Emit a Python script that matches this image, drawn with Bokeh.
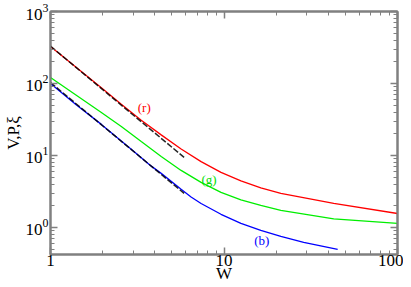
from bokeh.plotting import figure
from bokeh.models import LogAxis, FixedTicker, BasicTickFormatter, Range1d
from bokeh.core.properties import value
from bokeh.embed import file_html
from bokeh.resources import INLINE

# curve (r)
W_r = [1.0, 1.964, 2.559, 3.334, 4.345, 5.66, 7.378, 9.61, 12.52, 16.3, 21.26, 42.9, 100]
V_r = [326, 87.5, 51.5, 30.8, 19.3, 12.3, 8.2, 5.81, 4.43, 3.54, 2.97, 2.15, 1.56]
# curve (g)
W_g = [1.0, 1.964, 2.559, 3.334, 4.345, 5.66, 7.378, 9.61, 12.52, 16.3, 21.26, 42.9, 100]
V_g = [121, 39.5, 25.3, 15.6, 9.68, 6.19, 4.22, 3.06, 2.41, 2.02, 1.72, 1.31, 1.14]
# curve (b)
W_b = [1.0, 1.4, 1.964, 2.92, 3.81, 4.345, 5.66, 6.46, 7.378, 9.61, 12.52, 16.3, 21.26, 28.8, 45.2]
V_b = [100, 51, 27.0, 12.2, 7.1, 5.63, 3.40, 2.65, 2.15, 1.52, 1.14, 0.909, 0.750, 0.619, 0.495]
# dashed power-law fits
W_fit = [1.0, 5.89]
V_fit_r = [330, 9.38]
V_fit_b = [103, 2.97]

# curve tags
tag_text = ["(r)", "(g)", "(b)"]
tag_W = [3.47, 8.2, 16.5]
tag_V = [46.4, 4.64, 0.66]
tag_col = ["#ff0000", "#00dd00", "#0000ff"]

x_major = [1, 10, 100]
x_minor = [2, 3, 4, 5, 6, 7, 8, 9, 20, 30, 40, 50, 60, 70, 80, 90]
y_major = [1, 10, 100, 1000]
y_minor = [0.5, 0.6, 0.7, 0.8, 0.9, 2, 3, 4, 5, 6, 7, 8, 9,
           20, 30, 40, 50, 60, 70, 80, 90, 200, 300, 400, 500, 600, 700, 800, 900]

FONT = "Liberation Serif"
GRAY = "#808080"

p = figure(x_axis_type="log", y_axis_type="log",
           x_range=Range1d(1, 100), y_range=Range1d(0.42, 1000),
           width=403, height=287,
           min_border_left=49, min_border_top=11, min_border_right=6, min_border_bottom=33,
           output_backend="svg", toolbar_location=None)
p.grid.visible = False
p.outline_line_color = GRAY
p.outline_line_width = 2
p.background_fill_color = "white"
p.border_fill_color = "white"

xt = FixedTicker(ticks=x_major, minor_ticks=x_minor)
yt = FixedTicker(ticks=y_major, minor_ticks=y_minor)

def style(ax):
    ax.axis_line_color = GRAY
    ax.axis_line_width = 2
    ax.major_tick_line_color = GRAY
    ax.minor_tick_line_color = GRAY
    ax.major_tick_line_width = 1.5
    ax.minor_tick_line_width = 1
    ax.major_tick_in = 7
    ax.major_tick_out = 0
    ax.minor_tick_in = 4
    ax.minor_tick_out = 0
    ax.major_label_text_font = FONT
    ax.major_label_text_font_size = "17px"
    ax.major_label_text_color = "black"
    ax.axis_label_text_font = FONT
    ax.axis_label_text_font_size = "17px"
    ax.axis_label_text_font_style = "normal"
    ax.axis_label_text_color = "black"

xa = p.xaxis[0]
xa.ticker = xt
xa.formatter = BasicTickFormatter()
xa.axis_label = "W"
xa.major_label_standoff = 0
xa.axis_label_standoff = -5
style(xa)

ya = p.yaxis[0]
ya.ticker = yt
ya.axis_label = "V,P,ξ"
ya.major_label_standoff = 2
ya.axis_label_standoff = 0
style(ya)

for side, tk in (("right", yt), ("above", xt)):
    ax = LogAxis(ticker=tk, formatter=BasicTickFormatter())
    style(ax)
    ax.major_label_text_font_size = "1px"
    ax.major_label_text_alpha = 0
    ax.major_label_standoff = 0
    p.add_layout(ax, side)

p.line(W_r, V_r, line_color="#ff0000", line_width=1.3)
p.line(W_g, V_g, line_color="#00ee00", line_width=1.3)
p.line(W_b, V_b, line_color="#0000ff", line_width=1.3)
p.line(W_fit, V_fit_r, line_color="black", line_width=1.5, line_dash="6 2", line_alpha=0.85)
p.line(W_fit, V_fit_b, line_color="black", line_width=1.5, line_dash="6 2", line_alpha=0.85)

p.text(x=tag_W, y=tag_V, text=tag_text, text_color=tag_col,
       text_font=value(FONT), text_font_size="13px",
       text_align="center", text_baseline="middle")

open("out.html", "w").write(file_html(p, INLINE))
